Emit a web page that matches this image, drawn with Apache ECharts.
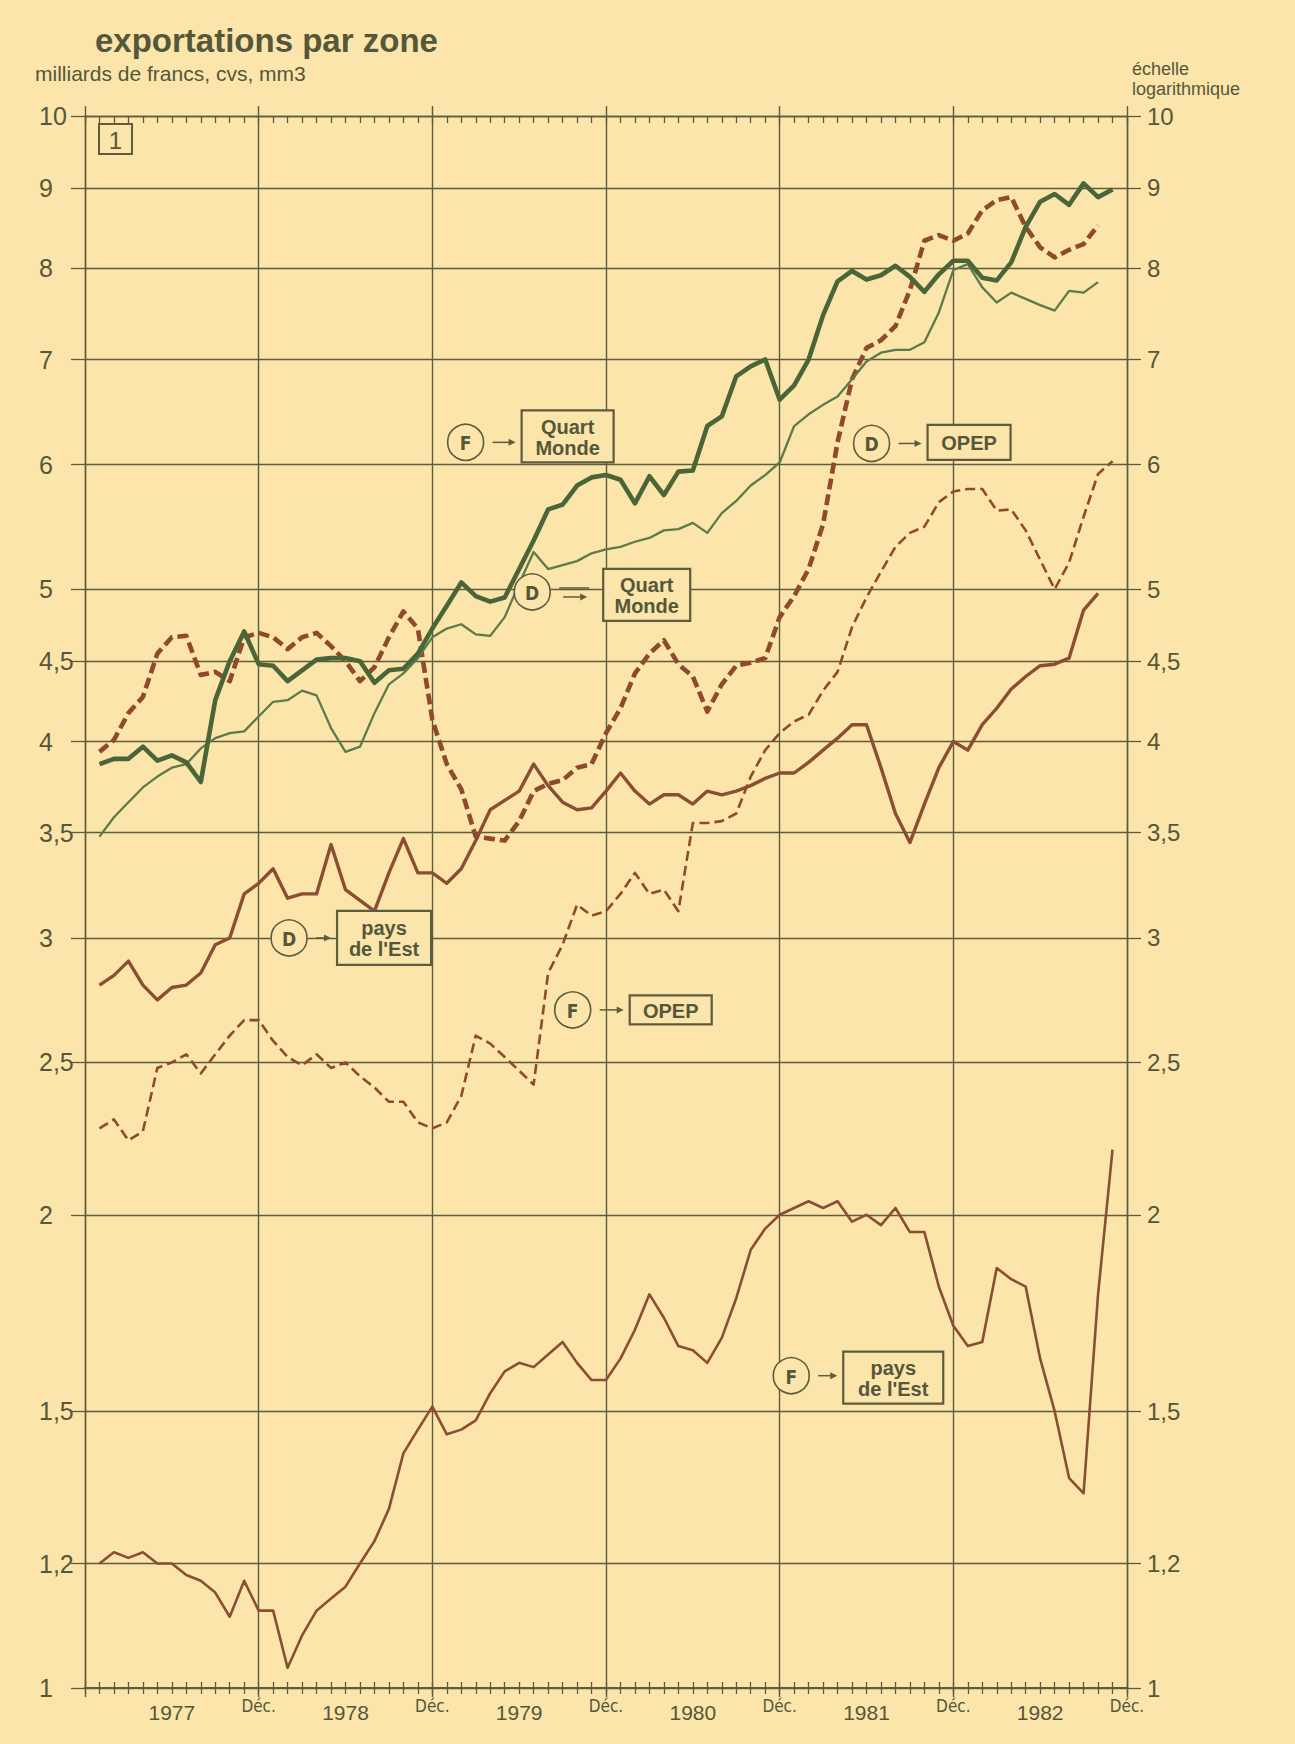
<!DOCTYPE html>
<html>
<head>
<meta charset="utf-8">
<script src="https://cdn.jsdelivr.net/npm/echarts@6/dist/echarts.min.js"></script>
<style>
  html, body { margin: 0; padding: 0; background: #fbe5aa; }
  #chart { width: 1295px; height: 1744px; }
</style>
</head>
<body>
<div id="chart"></div>
<script>
// Monthly categories, December 1976 to December 1982 (Dec positions carry the vertical rules)
const months = [];
for (let y = 1976; y <= 1982; y++) {
  for (let m = 1; m <= 12; m++) {
    if (y === 1976 && m < 12) continue;
    months.push(y + '-' + String(m).padStart(2, '0'));
  }
}

// Log-scale ticks and their printed labels
const yTicks = [1, 1.2, 1.5, 2, 2.5, 3, 3.5, 4, 4.5, 5, 6, 7, 8, 9, 10];
const yTickLabels = ['1', '1,2', '1,5', '2', '2,5', '3', '3,5', '4', '4,5', '5', '6', '7', '8', '9', '10'];

// Exports, billions of francs, seasonally adjusted, 3-month moving average (from Jan 1977)
const quartMondeF = [
  3.87, 3.90, 3.90, 3.97, 3.89, 3.92, 3.88, 3.77, 4.25, 4.50, 4.70, 4.48,
  4.47, 4.37, 4.44, 4.51, 4.52, 4.52, 4.50, 4.36, 4.44, 4.45, 4.55, 4.72,
  4.88, 5.05, 4.95, 4.91, 4.94, 5.15, 5.37, 5.62, 5.66, 5.82, 5.89, 5.91,
  5.87, 5.67, 5.90, 5.74, 5.94, 5.95, 6.35, 6.44, 6.83, 6.93, 7.00, 6.60,
  6.74, 7.00, 7.47, 7.85, 7.97, 7.87, 7.92, 8.03, 7.90, 7.73, 7.93, 8.09,
  8.09, 7.89, 7.86, 8.07, 8.50, 8.82, 8.92, 8.78, 9.06, 8.88, 8.98
];
const quartMondeD = [
  3.48, 3.58, 3.66, 3.74, 3.80, 3.85, 3.87, 3.96, 4.02, 4.05, 4.06, 4.15,
  4.24, 4.25, 4.31, 4.28, 4.08, 3.94, 3.97, 4.17, 4.35, 4.42, 4.52, 4.66,
  4.72, 4.75, 4.68, 4.67, 4.80, 5.04, 5.28, 5.15, 5.18, 5.21, 5.27, 5.30,
  5.32, 5.36, 5.39, 5.45, 5.46, 5.51, 5.43, 5.59, 5.69, 5.82, 5.91, 6.02,
  6.35, 6.46, 6.55, 6.63, 6.80, 6.98, 7.07, 7.10, 7.10, 7.18, 7.50, 7.98,
  8.05, 7.78, 7.61, 7.72, 7.65, 7.58, 7.52, 7.74, 7.72, 7.84
];
const opepD = [
  3.94, 4.01, 4.17, 4.27, 4.55, 4.66, 4.67, 4.41, 4.43, 4.37, 4.66, 4.69,
  4.66, 4.58, 4.66, 4.69, 4.60, 4.50, 4.37, 4.46, 4.66, 4.84, 4.72, 4.13,
  3.87, 3.73, 3.48, 3.47, 3.46, 3.56, 3.72, 3.76, 3.78, 3.85, 3.87, 4.05,
  4.20, 4.42, 4.55, 4.64, 4.48, 4.40, 4.18, 4.35, 4.47, 4.49, 4.52, 4.80,
  4.95, 5.15, 5.50, 6.20, 6.80, 7.12, 7.20, 7.35, 7.75, 8.33, 8.40, 8.33,
  8.42, 8.71, 8.84, 8.88, 8.50, 8.25, 8.13, 8.22, 8.29, 8.52
];
const opepF = [
  2.27, 2.30, 2.23, 2.26, 2.48, 2.50, 2.53, 2.46, 2.53, 2.60, 2.66, 2.66,
  2.58, 2.52, 2.49, 2.53, 2.48, 2.50, 2.45, 2.41, 2.36, 2.36, 2.29, 2.27,
  2.29, 2.38, 2.60, 2.57, 2.52, 2.47, 2.42, 2.85, 2.97, 3.15, 3.10, 3.12,
  3.20, 3.30, 3.20, 3.22, 3.12, 3.55, 3.55, 3.56, 3.60, 3.80, 3.95, 4.05,
  4.12, 4.16, 4.31, 4.43, 4.73, 4.94, 5.13, 5.32, 5.43, 5.48, 5.68, 5.77,
  5.79, 5.79, 5.61, 5.62, 5.45, 5.22, 5.00, 5.20, 5.56, 5.92, 6.03
];
const estD = [
  2.80, 2.84, 2.90, 2.80, 2.74, 2.79, 2.80, 2.85, 2.97, 3.00, 3.20, 3.25,
  3.32, 3.18, 3.20, 3.20, 3.44, 3.22, 3.17, 3.12, 3.30, 3.47, 3.30, 3.30,
  3.25, 3.32, 3.46, 3.62, 3.67, 3.72, 3.87, 3.75, 3.66, 3.62, 3.63, 3.72,
  3.82, 3.72, 3.65, 3.70, 3.70, 3.65, 3.72, 3.70, 3.72, 3.75, 3.79, 3.82,
  3.82, 3.88, 3.95, 4.02, 4.10, 4.10, 3.85, 3.60, 3.45, 3.65, 3.85, 4.00,
  3.95, 4.10, 4.20, 4.32, 4.40, 4.47, 4.48, 4.52, 4.85, 4.97
];
const estF = [
  1.20, 1.22, 1.21, 1.22, 1.20, 1.20, 1.18, 1.17, 1.15, 1.11, 1.17, 1.12,
  1.12, 1.03, 1.08, 1.12, 1.14, 1.16, 1.20, 1.24, 1.30, 1.41, 1.46, 1.51,
  1.45, 1.46, 1.48, 1.54, 1.59, 1.61, 1.60, 1.63, 1.66, 1.61, 1.57, 1.57,
  1.62, 1.69, 1.78, 1.72, 1.65, 1.64, 1.61, 1.67, 1.77, 1.90, 1.96, 2.00,
  2.02, 2.04, 2.02, 2.04, 1.98, 2.00, 1.97, 2.02, 1.95, 1.95, 1.80, 1.70,
  1.65, 1.66, 1.85, 1.82, 1.80, 1.62, 1.50, 1.36, 1.33, 1.78, 2.20
];

const FONT = '"Liberation Sans", Arial, sans-serif';
const NARROW = '"Liberation Sans Narrow", "DejaVu Sans Condensed", "Liberation Sans", sans-serif';
const INK = '#55573a';
const RULE = '#5e5c3e';
const PAPER = '#fbe5aa';
const GREEN_DARK = '#4a6537';
const GREEN = '#5c7a4b';
const BROWN = '#8f4a2c';
const BROWN_SOLID = '#8b4d33';

const isDec = (i) => i % 12 === 0;
const logTicks = yTicks.map(v => Math.log10(v));
const tickLabel = (val) => {
  const k = logTicks.findIndex(t => Math.abs(t - val) < 1e-6);
  return k < 0 ? '' : yTickLabels[k];
};

const chart = echarts.init(document.getElementById('chart'), null, { renderer: 'svg', width: 1295, height: 1744 });

const baseX = {
  type: 'category', data: months, boundaryGap: false,
  axisLine: { show: false, onZero: false },
  axisTick: { show: false }, axisLabel: { show: false }, splitLine: { show: false }
};
const ruleStyle = { color: RULE, width: 1.3 };

const lineSeries = (name, values, style, z) => ({
  name, type: 'line', xAxisIndex: 0, yAxisIndex: 0,
  data: [null].concat(values),
  symbol: 'none', showSymbol: false, connectNulls: false, silent: true,
  lineStyle: Object.assign({ cap: 'butt', join: 'round' }, style), z
});

chart.setOption({
  backgroundColor: PAPER,
  animation: false,
  title: [
    { text: 'exportations par zone', left: 95, top: 24, padding: 0,
      textStyle: { fontFamily: FONT, fontSize: 33, fontWeight: 'bold', color: INK } },
    { text: 'milliards de francs, cvs, mm3', left: 35, top: 63, padding: 0,
      textStyle: { fontFamily: FONT, fontSize: 21, fontWeight: 'normal', color: INK } },
    { text: 'échelle\nlogarithmique', left: 1132, top: 59, padding: 0,
      textStyle: { fontFamily: FONT, fontSize: 18, fontWeight: 'normal', color: INK, lineHeight: 20 } }
  ],
  grid: { left: 85, right: 168, top: 116, bottom: 56 },
  xAxis: [
    Object.assign({}, baseX, {
      position: 'bottom',
      axisLine: { show: true, onZero: false, lineStyle: { color: RULE, width: 2.2 } },
      axisTick: { show: true, inside: false, length: 6, interval: 0, lineStyle: ruleStyle },
      axisLabel: { show: true, interval: (i) => i > 0 && isDec(i), formatter: () => 'Déc.',
        margin: 9, fontFamily: NARROW, fontSize: 17, color: INK },
      splitLine: { show: true, interval: (i) => isDec(i), lineStyle: { color: RULE, width: 1.4 } }
    }),
    Object.assign({}, baseX, {
      position: 'bottom',
      axisTick: { show: true, inside: true, length: 6, interval: 0, lineStyle: ruleStyle },
      axisLabel: { show: true, interval: (i) => i % 12 === 6, formatter: (v) => v.slice(0, 4),
        margin: 14, fontFamily: FONT, fontSize: 21, color: INK }
    }),
    Object.assign({}, baseX, {
      position: 'top',
      axisLine: { show: true, onZero: false, lineStyle: { color: RULE, width: 1.4 } },
      axisTick: { show: true, inside: true, length: 7, interval: 0, lineStyle: ruleStyle }
    }),
    Object.assign({}, baseX, {
      position: 'top',
      axisTick: { show: true, inside: false, length: 10, interval: (i) => isDec(i), lineStyle: { color: RULE, width: 1.4 } }
    }),
    Object.assign({}, baseX, {
      position: 'bottom',
      axisTick: { show: true, inside: false, length: 9, interval: (i) => isDec(i), lineStyle: { color: RULE, width: 1.4 } }
    })
  ],
  yAxis: [
    { type: 'log', logBase: 10, min: 1, max: 10, show: false },
    { type: 'value', min: 0, max: 1, position: 'left',
      axisLine: { show: true, onZero: false, lineStyle: { color: RULE, width: 1.4 } },
      axisTick: { show: true, inside: false, length: 14, customValues: logTicks, lineStyle: ruleStyle },
      axisLabel: { show: true, customValues: logTicks, formatter: tickLabel, margin: 46, align: 'left',
        fontFamily: FONT, fontSize: 25, color: INK },
      splitLine: { show: true, lineStyle: ruleStyle } },
    { type: 'value', min: 0, max: 1, position: 'right',
      axisLine: { show: true, onZero: false, lineStyle: { color: RULE, width: 1.4 } },
      axisTick: { show: true, inside: false, length: 14, customValues: logTicks, lineStyle: ruleStyle },
      axisLabel: { show: true, customValues: logTicks, formatter: tickLabel, margin: 20,
        fontFamily: FONT, fontSize: 24, color: INK },
      splitLine: { show: false } }
  ],
  series: [
    lineSeries("pays de l'Est (F)", estF, { color: BROWN_SOLID, width: 2.6 }, 3),
    lineSeries("pays de l'Est (D)", estD, { color: BROWN_SOLID, width: 3.4 }, 3),
    lineSeries('OPEP (F)', opepF, { color: BROWN, width: 2.6, type: [10, 5] }, 4),
    lineSeries('OPEP (D)', opepD, { color: BROWN, width: 4.6, type: [11, 5] }, 4),
    lineSeries('Quart Monde (D)', quartMondeD, { color: GREEN, width: 2.3 }, 5),
    lineSeries('Quart Monde (F)', quartMondeF, { color: GREEN_DARK, width: 4.6 }, 6)
  ]
});

// Pixel position of a (month index, value) point; month index may be fractional
function toPx(month, value) {
  const p0 = chart.convertToPixel({ xAxisIndex: 0, yAxisIndex: 0 }, [0, value]);
  const p1 = chart.convertToPixel({ xAxisIndex: 0, yAxisIndex: 0 }, [72, value]);
  return [p0[0] + (p1[0] - p0[0]) * month / 72, p0[1]];
}

// Series call-outs: circled source letter, arrow, boxed zone name
const notes = [
  { tag: 'F', text: 'Quart\nMonde', at: [26.3, 6.2], w: 92, h: 52, gap: 56, dy: -6, arrow: 'single' },
  { tag: 'D', text: 'Quart\nMonde', at: [30.9, 4.98], w: 87, h: 52, gap: 71, dy: 3, arrow: 'double' },
  { tag: 'D', text: 'OPEP', at: [54.35, 6.19], w: 83, h: 35, gap: 56, dy: -1, arrow: 'single' },
  { tag: 'D', text: "pays\nde l'Est", at: [14.1, 3.0], w: 94, h: 54, gap: 48, dy: 0, arrow: 'single' },
  { tag: 'F', text: 'OPEP', at: [33.7, 2.7], w: 82, h: 29, gap: 57, dy: 0, arrow: 'single' },
  { tag: 'F', text: "pays\nde l'Est", at: [48.8, 1.58], w: 100, h: 52, gap: 52, dy: 2, arrow: 'single' }
];

const arrowHead = (x, y) => ({
  type: 'polygon', z: 100,
  shape: { points: [[x, y], [x - 7, y - 3.5], [x - 7, y + 3.5]] },
  style: { fill: RULE }
});

const graphics = [];
notes.forEach(n => {
  const [cx, cy] = toPx(n.at[0], n.at[1]);
  graphics.push({ type: 'circle', z: 100, shape: { cx, cy, r: 18 },
    style: { fill: PAPER, stroke: RULE, lineWidth: 1.6 } });
  graphics.push({ type: 'text', z: 101, x: cx, y: cy + 1,
    style: { text: n.tag, fill: INK, fontFamily: NARROW, fontSize: 19, fontWeight: 'bold',
      align: 'center', verticalAlign: 'middle' } });
  const endX = cx + n.gap - 6;
  if (n.arrow === 'double') {
    graphics.push({ type: 'line', z: 100, shape: { x1: cx + 27, y1: cy - 4, x2: endX - 8, y2: cy - 4 },
      style: { stroke: RULE, lineWidth: 1.5 } });
    graphics.push({ type: 'line', z: 100, shape: { x1: cx + 31, y1: cy + 5, x2: endX - 16, y2: cy + 5 },
      style: { stroke: RULE, lineWidth: 1.5 } });
    graphics.push(arrowHead(endX - 10, cy + 5));
  } else {
    graphics.push({ type: 'line', z: 100, shape: { x1: cx + 27, y1: cy, x2: endX - 6, y2: cy },
      style: { stroke: RULE, lineWidth: 1.5 } });
    graphics.push(arrowHead(endX, cy));
  }
  const bx = cx + n.gap, by = cy + n.dy - n.h / 2;
  graphics.push({ type: 'rect', z: 100, shape: { x: bx, y: by, width: n.w, height: n.h },
    style: { fill: PAPER, stroke: RULE, lineWidth: 2.2 } });
  graphics.push({ type: 'text', z: 101, x: bx + n.w / 2, y: cy + n.dy + 1,
    style: { text: n.text, fill: INK, fontFamily: FONT, fontSize: 20, fontWeight: 'bold',
      lineHeight: 21, align: 'center', verticalAlign: 'middle' } });
});

// Panel number in the upper-left corner of the plot
const corner = toPx(0, 10);
graphics.push({ type: 'rect', z: 100, shape: { x: corner[0] + 14, y: corner[1] + 8, width: 33, height: 30 },
  style: { fill: PAPER, stroke: RULE, lineWidth: 2 } });
graphics.push({ type: 'text', z: 101, x: corner[0] + 30.5, y: corner[1] + 24,
  style: { text: '1', fill: INK, fontFamily: FONT, fontSize: 24, align: 'center', verticalAlign: 'middle' } });

chart.setOption({ graphic: graphics });
</script>
</body>
</html>
